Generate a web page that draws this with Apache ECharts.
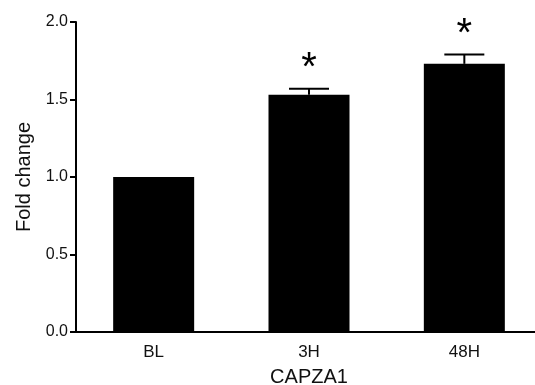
<!DOCTYPE html>
<html><head><meta charset="utf-8">
<script src="https://cdn.jsdelivr.net/npm/echarts@6/dist/echarts.min.js"></script>
<style>html,body{margin:0;padding:0;background:#fff}#c{width:535px;height:385px}</style>
</head><body><div id="c"></div>
<script>
const categories = ['BL', '3H', '48H'];
const foldChange = [1.0, 1.53, 1.73];
const errorUpper = [1.0, 1.57, 1.79];
const significance = ['', '*', '*'];
const yTicks = [0, 0.5, 1.0, 1.5, 2.0];

const errData = [];
categories.forEach((c, i) => {
  if (errorUpper[i] > foldChange[i]) errData.push([i, errorUpper[i], foldChange[i], significance[i]]);
});

const chart = echarts.init(document.getElementById('c'), null, {renderer: 'canvas'});
const font = '"Liberation Sans", Arial, Helvetica, sans-serif';
chart.setOption({
  animation: false,
  backgroundColor: '#fff',
  grid: {left: 76, top: 22, width: 466, bottom: 53, containLabel: false, outerBoundsMode: 'none'},
  xAxis: {
    type: 'category', data: categories,
    axisLine: {lineStyle: {color: '#000', width: 2}},
    axisTick: {show: false},
    axisLabel: {color: '#111', fontSize: 17, fontFamily: font, margin: 12},
    name: 'CAPZA1', nameLocation: 'middle', nameGap: 35,
    nameTextStyle: {color: '#111', fontSize: 20, fontFamily: font}
  },
  yAxis: {
    type: 'value', min: yTicks[0], max: yTicks[yTicks.length - 1], interval: 0.5,
    splitLine: {show: false},
    axisLine: {show: true, lineStyle: {color: '#000', width: 2}},
    axisTick: {show: true, length: 6, lineStyle: {color: '#000', width: 2}},
    axisLabel: {color: '#111', fontSize: 16, fontFamily: font, margin: 8,
      formatter: v => v.toFixed(1)},
    name: 'Fold change', nameLocation: 'middle', nameGap: 37,
    nameTextStyle: {color: '#111', fontSize: 20, fontFamily: font}
  },
  series: [
    {
      type: 'bar', data: foldChange, barWidth: 81,
      itemStyle: {color: '#000'}
    },
    {
      type: 'custom', data: errData, z: 5,
      renderItem: function (params, api) {
        const i = api.value(0);
        const top = api.coord([i, api.value(1)]);
        const base = api.coord([i, api.value(2)]);
        const hw = 20;
        const st = {stroke: '#000', lineWidth: 2};
        return {
          type: 'group',
          children: [
            {type: 'line', shape: {x1: top[0], y1: base[1], x2: top[0], y2: top[1]}, style: st},
            {type: 'line', shape: {x1: top[0] - hw, y1: top[1], x2: top[0] + hw, y2: top[1]}, style: st},
            {type: 'text', style: {text: api.value(3), x: top[0], y: top[1] - 20,
              textAlign: 'center', textVerticalAlign: 'middle',
              font: '40px ' + font, fill: '#000'}}
          ]
        };
      }
    }
  ]
});
</script></body></html>
